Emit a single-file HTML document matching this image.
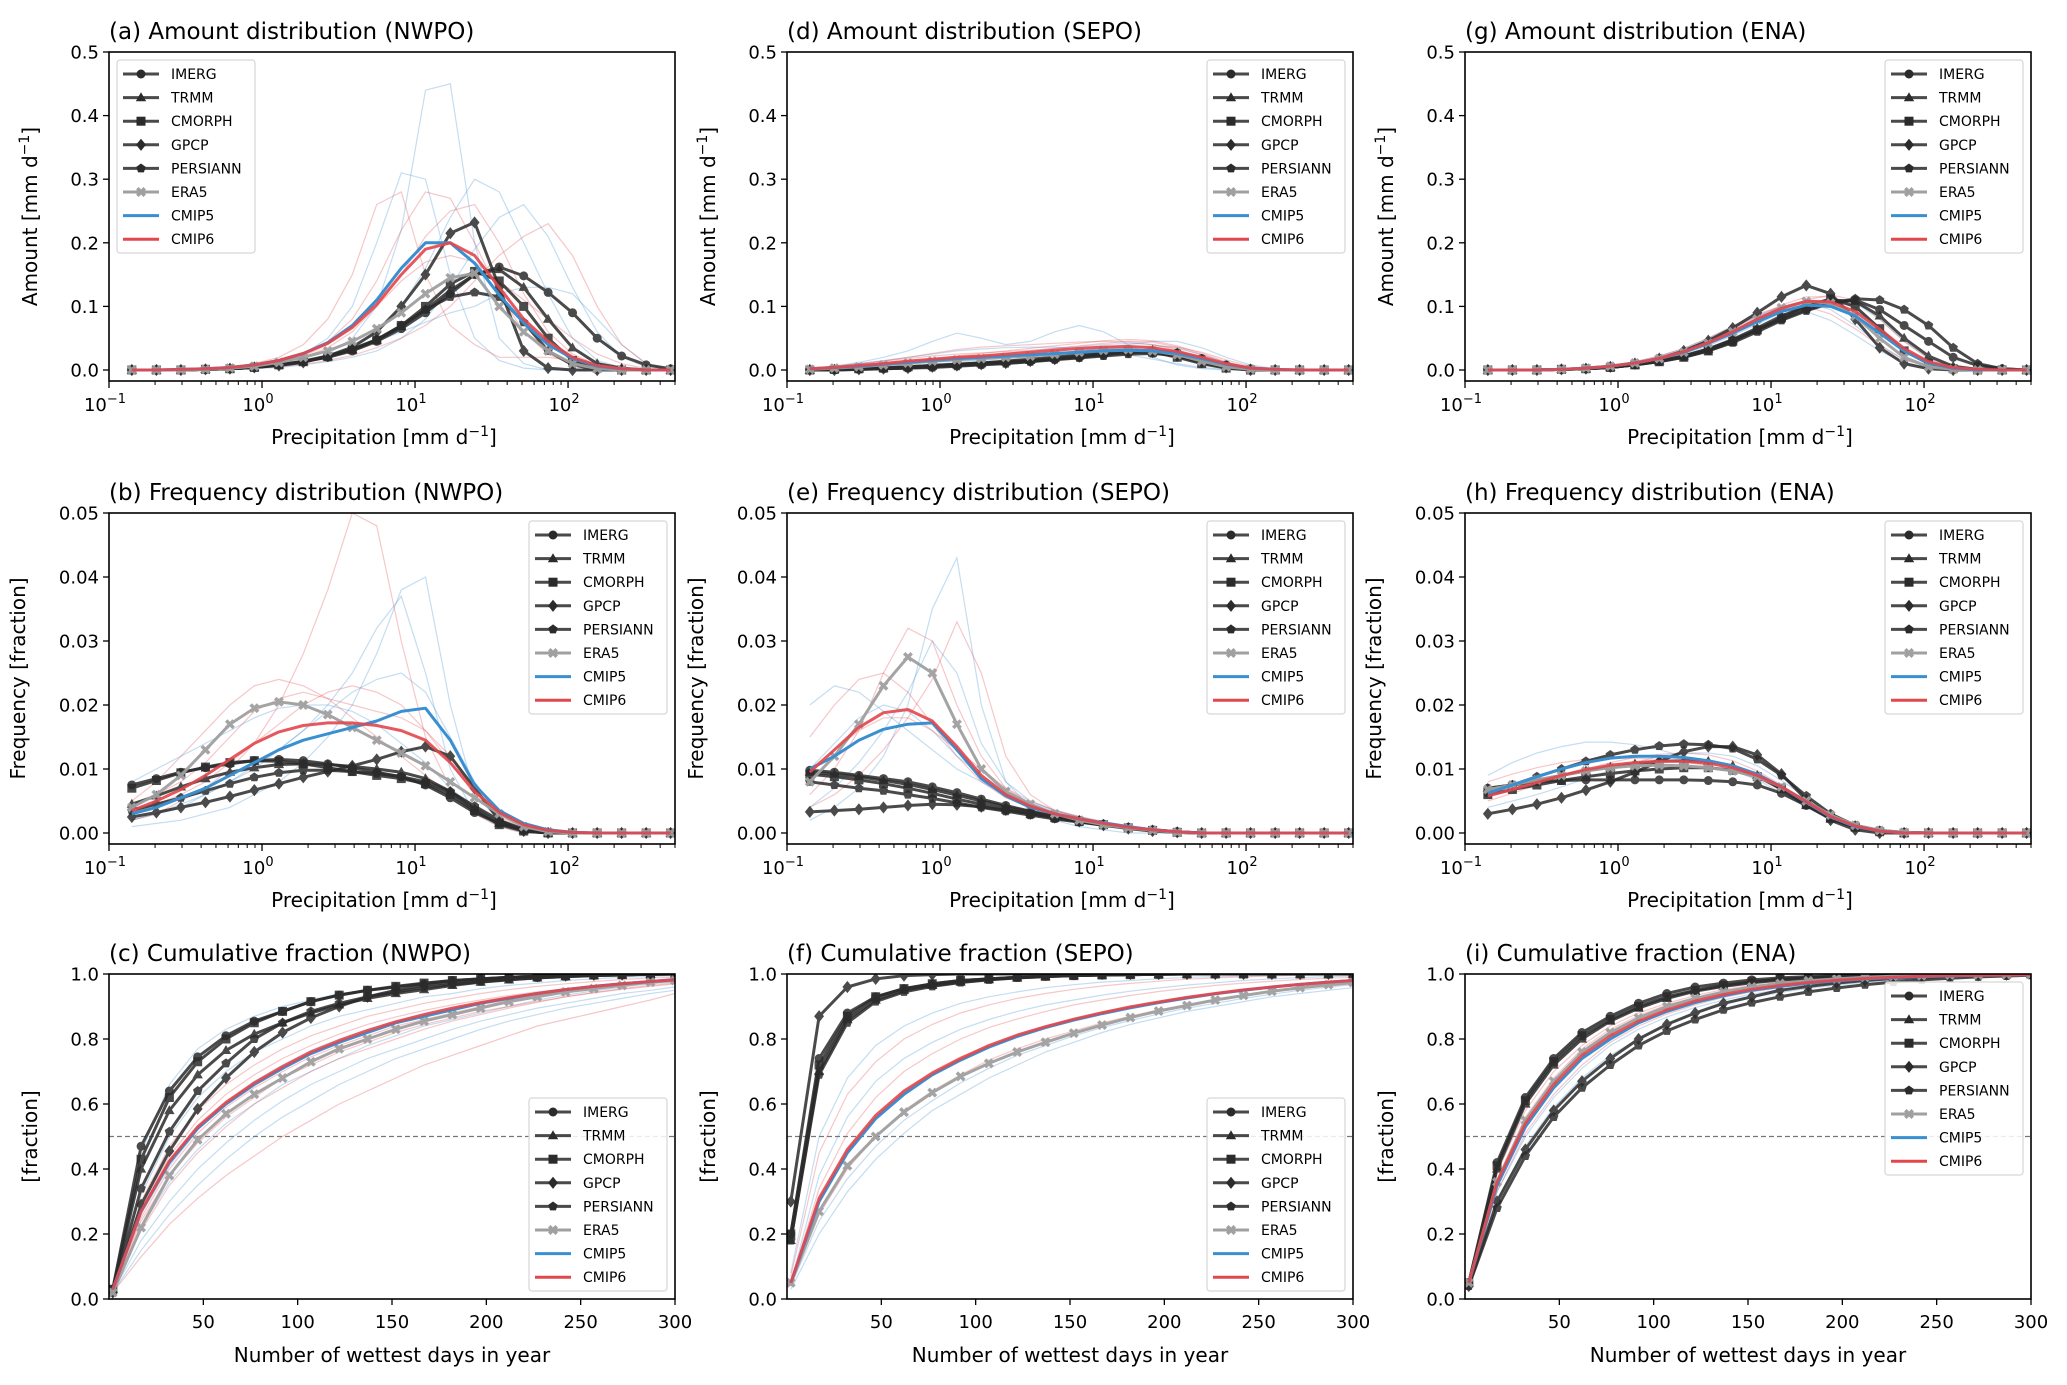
<!DOCTYPE html>
<html><head><meta charset="utf-8"><title>Precipitation distributions</title>
<style>
html,body{margin:0;padding:0;background:#fff;}
svg{display:block;font-family:"DejaVu Sans","Liberation Sans",sans-serif;}
</style></head>
<body>
<svg id="fig" width="2067" height="1385" viewBox="0 0 2067 1385" xmlns="http://www.w3.org/2000/svg"></svg>
<script>
// ---------- shared x values ----------
const binsX = [0.141,0.204,0.295,0.427,0.617,0.891,1.29,1.86,2.69,3.89,5.62,8.13,11.7,17.0,24.5,35.5,51.3,74.1,107,155,224,324,468];
const daysX = [2,17,32,47,62,77,92,107,122,137,152,167,182,197,212,227,242,257,272,287,300];
const seriesNames = ["IMERG","TRMM","CMORPH","GPCP","PERSIANN","ERA5","CMIP5","CMIP6"];
const xTickLog = [0.1,1,10,100];
const xTickLogLabels = ["−1","0","1","2"];
const xTickDays = [50,100,150,200,250,300];
const yTicksAmount = [0,0.1,0.2,0.3,0.4,0.5];
const yTickLabelsAmount = ["0.0","0.1","0.2","0.3","0.4","0.5"];
const yTicksFreq = [0,0.01,0.02,0.03,0.04,0.05];
const yTickLabelsFreq = ["0.00","0.01","0.02","0.03","0.04","0.05"];
const yTicksCum = [0,0.2,0.4,0.6,0.8,1.0];
const yTickLabelsCum = ["0.0","0.2","0.4","0.6","0.8","1.0"];

// ---------- (a) amount NWPO ----------
const a_obs = [
[0,0,0,0.001,0.002,0.004,0.008,0.013,0.02,0.03,0.045,0.065,0.09,0.12,0.15,0.162,0.148,0.122,0.09,0.05,0.022,0.008,0.002],
[0,0,0,0.001,0.002,0.004,0.008,0.013,0.021,0.032,0.047,0.068,0.095,0.125,0.15,0.158,0.13,0.08,0.035,0.01,0.003,0,0],
[0,0,0,0.001,0.002,0.004,0.008,0.013,0.021,0.032,0.047,0.07,0.1,0.135,0.155,0.14,0.1,0.05,0.015,0.003,0,0,0],
[0,0,0,0.001,0.002,0.004,0.007,0.012,0.022,0.036,0.06,0.1,0.15,0.215,0.232,0.13,0.03,0.003,0,0,0,0,0],
[0,0,0,0.001,0.002,0.004,0.008,0.014,0.022,0.033,0.048,0.07,0.095,0.115,0.122,0.115,0.075,0.03,0.008,0.001,0,0,0]];
const a_era5 = [0,0,0,0.001,0.003,0.006,0.012,0.02,0.03,0.045,0.065,0.09,0.12,0.145,0.152,0.1,0.06,0.03,0.01,0.002,0,0,0];
const a_cmip5 = [0,0,0.001,0.002,0.004,0.008,0.015,0.026,0.043,0.07,0.11,0.16,0.2,0.2,0.168,0.118,0.074,0.04,0.018,0.006,0.002,0,0];
const a_cmip6 = [0,0,0.001,0.002,0.004,0.008,0.015,0.026,0.042,0.067,0.103,0.15,0.19,0.2,0.18,0.13,0.08,0.045,0.02,0.007,0.002,0,0];
const a_models5 = [
[0,0,0,0,0.001,0.003,0.006,0.012,0.025,0.05,0.1,0.22,0.44,0.45,0.2,0.05,0.01,0,0,0,0,0,0],
[0,0,0,0.001,0.003,0.006,0.012,0.025,0.05,0.1,0.2,0.31,0.3,0.15,0.05,0.015,0.003,0,0,0,0,0,0],
[0,0,0,0,0.001,0.003,0.006,0.012,0.02,0.035,0.06,0.1,0.16,0.24,0.3,0.28,0.2,0.12,0.05,0.015,0.004,0,0],
[0,0,0,0,0.001,0.002,0.004,0.008,0.013,0.02,0.03,0.05,0.08,0.13,0.19,0.24,0.26,0.21,0.13,0.06,0.02,0.005,0],
[0,0,0,0.001,0.002,0.004,0.007,0.012,0.02,0.03,0.045,0.06,0.075,0.09,0.1,0.12,0.13,0.13,0.12,0.08,0.04,0.01,0]];
const a_models6 = [
[0,0,0.001,0.002,0.004,0.01,0.02,0.04,0.08,0.15,0.26,0.28,0.15,0.07,0.04,0.02,0.02,0.02,0.015,0.005,0,0,0],
[0,0,0,0.001,0.003,0.006,0.012,0.025,0.045,0.08,0.14,0.22,0.28,0.27,0.2,0.12,0.06,0.025,0.008,0.002,0,0,0],
[0,0,0,0,0.001,0.003,0.005,0.009,0.015,0.023,0.035,0.05,0.07,0.1,0.14,0.18,0.21,0.23,0.18,0.1,0.04,0.01,0],
[0,0,0,0.001,0.002,0.005,0.01,0.02,0.035,0.06,0.1,0.15,0.21,0.25,0.26,0.2,0.12,0.06,0.025,0.008,0.002,0,0],
[0,0,0,0.001,0.003,0.006,0.012,0.022,0.04,0.065,0.1,0.14,0.17,0.18,0.17,0.14,0.11,0.08,0.05,0.025,0.01,0.002,0]];

// ---------- (d) amount SEPO ----------
const d_obs = [
[0,0.001,0.002,0.003,0.004,0.006,0.008,0.01,0.012,0.014,0.017,0.02,0.024,0.028,0.03,0.027,0.018,0.008,0.002,0,0,0,0],
[0,0.001,0.002,0.003,0.005,0.007,0.009,0.011,0.013,0.015,0.018,0.022,0.026,0.03,0.031,0.027,0.017,0.007,0.002,0,0,0,0],
[0,0.001,0.002,0.003,0.005,0.007,0.009,0.011,0.014,0.017,0.02,0.024,0.028,0.03,0.028,0.02,0.01,0.003,0,0,0,0,0],
[0,0,0.001,0.002,0.003,0.005,0.007,0.009,0.011,0.014,0.017,0.021,0.025,0.028,0.028,0.022,0.012,0.004,0,0,0,0,0],
[0,0,0.001,0.002,0.003,0.004,0.006,0.008,0.01,0.013,0.016,0.019,0.022,0.025,0.026,0.023,0.015,0.006,0.001,0,0,0,0]];
const d_era5 = [0.001,0.003,0.005,0.008,0.011,0.014,0.016,0.018,0.02,0.022,0.025,0.028,0.031,0.032,0.03,0.024,0.014,0.005,0.001,0,0,0,0];
const d_cmip5 = [0.002,0.004,0.006,0.009,0.012,0.015,0.018,0.02,0.022,0.024,0.026,0.028,0.03,0.031,0.03,0.026,0.018,0.009,0.003,0.001,0,0,0];
const d_cmip6 = [0.002,0.004,0.007,0.01,0.014,0.017,0.02,0.022,0.025,0.028,0.031,0.034,0.036,0.037,0.035,0.029,0.02,0.01,0.003,0.001,0,0,0];
const d_models5 = [
[0.002,0.006,0.012,0.02,0.03,0.045,0.058,0.05,0.04,0.045,0.06,0.07,0.06,0.04,0.02,0.008,0.002,0,0,0,0,0,0],
[0.001,0.002,0.004,0.007,0.01,0.014,0.018,0.022,0.026,0.03,0.034,0.037,0.04,0.042,0.04,0.034,0.024,0.012,0.004,0,0,0,0],
[0.003,0.006,0.01,0.015,0.02,0.025,0.03,0.033,0.035,0.036,0.036,0.034,0.03,0.024,0.017,0.01,0.004,0.001,0,0,0,0,0],
[0,0.001,0.002,0.004,0.006,0.009,0.012,0.015,0.018,0.022,0.026,0.03,0.035,0.04,0.045,0.045,0.035,0.02,0.008,0.002,0,0,0]];
const d_models6 = [
[0.002,0.005,0.009,0.014,0.02,0.026,0.032,0.036,0.038,0.04,0.042,0.044,0.045,0.044,0.04,0.032,0.02,0.009,0.003,0,0,0,0],
[0.001,0.003,0.006,0.01,0.014,0.018,0.022,0.026,0.03,0.034,0.038,0.042,0.046,0.048,0.046,0.038,0.026,0.013,0.004,0.001,0,0,0],
[0.001,0.002,0.004,0.006,0.009,0.012,0.015,0.018,0.021,0.024,0.027,0.03,0.033,0.036,0.038,0.036,0.028,0.016,0.006,0.001,0,0,0],
[0.003,0.006,0.01,0.014,0.018,0.022,0.025,0.027,0.029,0.031,0.034,0.038,0.042,0.045,0.044,0.036,0.024,0.011,0.003,0,0,0,0]];

// ---------- (g) amount ENA ----------
const g_obs = [
[0,0,0,0.001,0.002,0.004,0.008,0.014,0.022,0.033,0.047,0.063,0.08,0.095,0.105,0.11,0.095,0.07,0.045,0.02,0.007,0.002,0],
[0,0,0,0.001,0.002,0.004,0.008,0.014,0.022,0.033,0.048,0.066,0.085,0.1,0.11,0.108,0.085,0.05,0.022,0.006,0.001,0,0],
[0,0,0,0.001,0.002,0.004,0.008,0.013,0.02,0.03,0.045,0.063,0.082,0.1,0.112,0.1,0.065,0.03,0.01,0.002,0,0,0],
[0,0,0,0.001,0.002,0.005,0.01,0.018,0.03,0.046,0.066,0.09,0.115,0.133,0.12,0.08,0.035,0.01,0.002,0,0,0,0],
[0,0,0,0.001,0.002,0.004,0.008,0.013,0.02,0.03,0.043,0.06,0.078,0.093,0.105,0.112,0.11,0.095,0.07,0.035,0.01,0.002,0]];
const g_era5 = [0,0,0,0.001,0.003,0.006,0.011,0.018,0.028,0.042,0.06,0.08,0.098,0.108,0.105,0.085,0.05,0.02,0.005,0.001,0,0,0];
const g_cmip5 = [0,0,0,0.001,0.003,0.006,0.011,0.018,0.028,0.042,0.058,0.076,0.092,0.102,0.1,0.085,0.058,0.03,0.011,0.003,0,0,0];
const g_cmip6 = [0,0,0,0.001,0.003,0.006,0.011,0.018,0.029,0.043,0.06,0.08,0.097,0.108,0.107,0.092,0.064,0.034,0.013,0.004,0.001,0,0];
const g_models5 = [
[0,0,0,0.001,0.003,0.007,0.013,0.022,0.034,0.05,0.068,0.085,0.095,0.092,0.078,0.055,0.03,0.012,0.003,0,0,0,0],
[0,0,0,0.001,0.002,0.005,0.01,0.016,0.025,0.038,0.054,0.072,0.09,0.105,0.112,0.105,0.08,0.045,0.018,0.005,0.001,0,0],
[0,0,0,0.001,0.003,0.006,0.012,0.02,0.032,0.048,0.066,0.085,0.1,0.105,0.095,0.07,0.04,0.016,0.005,0.001,0,0,0]];
const g_models6 = [
[0,0,0,0.001,0.003,0.006,0.012,0.02,0.031,0.046,0.064,0.084,0.102,0.115,0.115,0.098,0.068,0.035,0.013,0.003,0,0,0],
[0,0,0,0.001,0.002,0.005,0.01,0.017,0.027,0.04,0.056,0.075,0.094,0.11,0.118,0.11,0.08,0.045,0.018,0.005,0.001,0,0],
[0,0,0,0.001,0.003,0.007,0.013,0.022,0.034,0.05,0.069,0.088,0.1,0.1,0.088,0.065,0.038,0.016,0.005,0.001,0,0,0]];

// ---------- (b) frequency NWPO ----------
const b_obs = [
[0.0075,0.0085,0.0095,0.0102,0.0108,0.0113,0.0115,0.0113,0.0108,0.0102,0.0095,0.0088,0.0075,0.0055,0.0032,0.0015,0.0005,0.0001,0,0,0,0,0],
[0.0045,0.0058,0.0072,0.0085,0.0095,0.0102,0.0107,0.0108,0.0107,0.0104,0.01,0.0095,0.0085,0.0065,0.0038,0.0015,0.0004,0,0,0,0,0,0],
[0.007,0.0082,0.0094,0.0103,0.011,0.0113,0.0112,0.0108,0.0102,0.0096,0.009,0.0085,0.0077,0.006,0.0035,0.0013,0.0003,0,0,0,0,0,0],
[0.0025,0.0032,0.004,0.0048,0.0057,0.0067,0.0077,0.0087,0.0096,0.0105,0.0115,0.0127,0.0135,0.012,0.007,0.002,0.0003,0,0,0,0,0,0],
[0.0035,0.0045,0.0055,0.0066,0.0077,0.0087,0.0094,0.0098,0.0098,0.0096,0.0093,0.0088,0.008,0.0065,0.0042,0.002,0.0006,0.0001,0,0,0,0,0]];
const b_era5 = [0.004,0.006,0.009,0.013,0.017,0.0195,0.0205,0.02,0.0185,0.0165,0.0145,0.0125,0.0105,0.008,0.0055,0.003,0.001,0.0002,0,0,0,0,0];
const b_cmip5 = [0.003,0.004,0.0055,0.007,0.009,0.011,0.013,0.0145,0.0155,0.0165,0.0175,0.019,0.0195,0.0145,0.0075,0.0035,0.0015,0.0005,0.0001,0,0,0,0];
const b_cmip6 = [0.0035,0.005,0.0068,0.009,0.0115,0.014,0.0158,0.0168,0.0172,0.0172,0.0168,0.016,0.0145,0.011,0.0065,0.0032,0.0013,0.0004,0.0001,0,0,0,0];
const b_models5 = [
[0.001,0.0015,0.002,0.003,0.004,0.006,0.008,0.011,0.015,0.02,0.028,0.038,0.04,0.02,0.006,0.002,0.0005,0,0,0,0,0,0],
[0.002,0.003,0.004,0.006,0.008,0.01,0.013,0.016,0.02,0.025,0.032,0.037,0.025,0.01,0.003,0.001,0,0,0,0,0,0,0],
[0.008,0.01,0.012,0.014,0.016,0.018,0.0195,0.02,0.02,0.019,0.017,0.014,0.011,0.007,0.004,0.002,0.0006,0,0,0,0,0,0],
[0.002,0.003,0.0045,0.006,0.008,0.0105,0.013,0.016,0.019,0.022,0.024,0.025,0.022,0.015,0.008,0.003,0.001,0,0,0,0,0,0]];
const b_models6 = [
[0.002,0.003,0.005,0.007,0.01,0.014,0.02,0.028,0.038,0.05,0.048,0.03,0.015,0.007,0.003,0.001,0,0,0,0,0,0,0],
[0.005,0.008,0.012,0.016,0.02,0.023,0.024,0.023,0.021,0.018,0.015,0.012,0.009,0.006,0.0035,0.0015,0.0005,0,0,0,0,0,0],
[0.003,0.0045,0.006,0.008,0.011,0.014,0.017,0.02,0.022,0.023,0.022,0.02,0.016,0.011,0.006,0.0025,0.0008,0,0,0,0,0,0],
[0.004,0.006,0.008,0.011,0.015,0.019,0.021,0.022,0.021,0.02,0.019,0.018,0.016,0.012,0.007,0.003,0.001,0,0,0,0,0,0]];

// ---------- (e) frequency SEPO ----------
const e_obs = [
[0.0098,0.0095,0.009,0.0085,0.008,0.0072,0.0063,0.0053,0.0043,0.0034,0.0026,0.002,0.0014,0.0009,0.0005,0.0002,0,0,0,0,0,0,0],
[0.0095,0.0092,0.0088,0.0082,0.0076,0.0068,0.0059,0.005,0.0041,0.0033,0.0026,0.002,0.0014,0.0009,0.0005,0.0002,0,0,0,0,0,0,0],
[0.0092,0.0088,0.0083,0.0077,0.007,0.0062,0.0053,0.0045,0.0037,0.003,0.0024,0.0018,0.0013,0.0008,0.0004,0.0001,0,0,0,0,0,0,0],
[0.0033,0.0035,0.0037,0.004,0.0043,0.0045,0.0044,0.0041,0.0036,0.003,0.0024,0.0018,0.0012,0.0007,0.0003,0.0001,0,0,0,0,0,0,0],
[0.008,0.0075,0.007,0.0066,0.006,0.0054,0.0047,0.004,0.0034,0.0028,0.0022,0.0017,0.0012,0.0008,0.0004,0.0001,0,0,0,0,0,0,0]];
const e_era5 = [0.008,0.012,0.017,0.023,0.0275,0.025,0.017,0.01,0.0065,0.0045,0.003,0.002,0.0013,0.0008,0.0004,0.0001,0,0,0,0,0,0,0];
const e_cmip5 = [0.01,0.012,0.0145,0.0162,0.017,0.0172,0.013,0.0085,0.0058,0.004,0.003,0.0022,0.0016,0.001,0.0005,0.0002,0,0,0,0,0,0,0];
const e_cmip6 = [0.0095,0.013,0.0165,0.0188,0.0193,0.0175,0.0135,0.009,0.006,0.0042,0.003,0.0022,0.0015,0.0009,0.0005,0.0002,0,0,0,0,0,0,0];
const e_models5 = [
[0.002,0.004,0.007,0.012,0.02,0.035,0.043,0.02,0.008,0.004,0.002,0.001,0.0005,0,0,0,0,0,0,0,0,0,0],
[0.02,0.023,0.022,0.019,0.016,0.013,0.01,0.008,0.006,0.0045,0.0033,0.0024,0.0016,0.001,0.0005,0.0002,0,0,0,0,0,0,0],
[0.004,0.007,0.011,0.016,0.022,0.03,0.025,0.014,0.008,0.005,0.0035,0.0025,0.0017,0.001,0.0005,0.0002,0,0,0,0,0,0,0],
[0.01,0.014,0.018,0.02,0.019,0.016,0.012,0.009,0.0065,0.0048,0.0035,0.0025,0.0017,0.0011,0.0006,0.0002,0,0,0,0,0,0,0]];
const e_models6 = [
[0.006,0.01,0.016,0.025,0.032,0.03,0.02,0.012,0.007,0.0045,0.003,0.002,0.0013,0.0008,0.0004,0.0001,0,0,0,0,0,0,0],
[0.015,0.02,0.024,0.025,0.022,0.017,0.012,0.008,0.0055,0.004,0.003,0.0022,0.0015,0.0009,0.0005,0.0002,0,0,0,0,0,0,0],
[0.004,0.006,0.009,0.013,0.018,0.024,0.033,0.025,0.012,0.006,0.0035,0.0024,0.0016,0.001,0.0005,0.0002,0,0,0,0,0,0,0],
[0.01,0.013,0.016,0.018,0.018,0.016,0.013,0.01,0.007,0.005,0.0036,0.0026,0.0018,0.0011,0.0006,0.0002,0,0,0,0,0,0,0]];

// ---------- (h) frequency ENA ----------
const h_obs = [
[0.007,0.0075,0.008,0.0082,0.0083,0.0083,0.0083,0.0083,0.0083,0.0082,0.008,0.0075,0.0062,0.0043,0.0024,0.001,0.0003,0.0001,0,0,0,0,0],
[0.007,0.0075,0.0082,0.009,0.0097,0.0103,0.0108,0.0112,0.0113,0.0112,0.0105,0.009,0.0068,0.0043,0.0022,0.0009,0.0003,0,0,0,0,0,0],
[0.006,0.0068,0.0075,0.0082,0.0088,0.0093,0.0097,0.01,0.0102,0.0102,0.0098,0.0088,0.007,0.0045,0.0023,0.0009,0.0002,0,0,0,0,0,0],
[0.003,0.0037,0.0045,0.0055,0.0067,0.008,0.0095,0.0112,0.0127,0.0135,0.0135,0.0122,0.0092,0.0052,0.002,0.0005,0,0,0,0,0,0,0],
[0.0063,0.0075,0.0088,0.01,0.0112,0.0122,0.013,0.0136,0.0139,0.0138,0.0132,0.0115,0.009,0.0058,0.003,0.0012,0.0004,0.0001,0,0,0,0,0]];
const h_era5 = [0.0068,0.0075,0.0083,0.009,0.0097,0.0102,0.0105,0.0106,0.0105,0.0102,0.0097,0.0088,0.0072,0.005,0.0028,0.0012,0.0004,0.0001,0,0,0,0,0];
const h_cmip5 = [0.0062,0.0075,0.0088,0.01,0.011,0.0117,0.012,0.012,0.0118,0.0113,0.0105,0.0092,0.0072,0.0048,0.0025,0.001,0.0003,0,0,0,0,0,0];
const h_cmip6 = [0.0058,0.0068,0.0079,0.009,0.0099,0.0106,0.011,0.0112,0.0112,0.0109,0.0102,0.009,0.0072,0.0049,0.0026,0.0011,0.0003,0,0,0,0,0,0];
const h_models5 = [
[0.009,0.011,0.0125,0.0135,0.0142,0.0142,0.0138,0.013,0.012,0.011,0.0098,0.0083,0.0063,0.0041,0.0021,0.0008,0.0002,0,0,0,0,0,0],
[0.004,0.005,0.006,0.0072,0.0085,0.0098,0.011,0.012,0.0125,0.0125,0.012,0.0105,0.0082,0.0055,0.0028,0.001,0.0003,0,0,0,0,0,0]];
const h_models6 = [
[0.005,0.0062,0.0075,0.0088,0.01,0.011,0.0118,0.0123,0.0125,0.0122,0.0113,0.0097,0.0075,0.005,0.0026,0.001,0.0003,0,0,0,0,0,0],
[0.008,0.0092,0.0102,0.011,0.0115,0.0117,0.0117,0.0115,0.0111,0.0105,0.0097,0.0085,0.0067,0.0045,0.0024,0.001,0.0003,0,0,0,0,0,0]];

// ---------- (c) cumulative NWPO ----------
const c_obs = [
[0.03,0.47,0.64,0.745,0.81,0.855,0.885,0.915,0.935,0.95,0.96,0.97,0.98,0.985,0.99,0.993,0.995,0.997,0.998,0.999,1],
[0.03,0.4,0.58,0.69,0.765,0.815,0.85,0.88,0.905,0.925,0.94,0.952,0.965,0.975,0.982,0.988,0.992,0.995,0.997,0.999,1],
[0.03,0.43,0.62,0.73,0.8,0.85,0.885,0.915,0.935,0.95,0.962,0.972,0.98,0.985,0.99,0.993,0.995,0.997,0.998,0.999,1],
[0.02,0.29,0.455,0.585,0.68,0.76,0.82,0.865,0.9,0.93,0.95,0.965,0.975,0.983,0.99,0.993,0.995,0.997,0.998,0.999,1],
[0.02,0.34,0.515,0.64,0.725,0.8,0.85,0.885,0.91,0.93,0.945,0.958,0.968,0.976,0.983,0.988,0.992,0.995,0.997,0.999,1]];
const c_era5 = [0.02,0.22,0.38,0.49,0.57,0.63,0.68,0.73,0.77,0.8,0.83,0.855,0.875,0.895,0.915,0.93,0.945,0.955,0.965,0.975,0.98];
const c_cmip5 = [0.03,0.27,0.42,0.525,0.6,0.66,0.71,0.755,0.79,0.82,0.85,0.87,0.89,0.91,0.925,0.94,0.952,0.962,0.97,0.977,0.983];
const c_cmip6 = [0.03,0.27,0.425,0.53,0.605,0.665,0.715,0.76,0.795,0.826,0.853,0.875,0.895,0.912,0.927,0.94,0.952,0.962,0.97,0.977,0.982];
const c_models5 = [
[0.05,0.45,0.66,0.77,0.83,0.87,0.9,0.92,0.94,0.95,0.96,0.97,0.975,0.98,0.985,0.99,0.992,0.994,0.996,0.998,1],
[0.02,0.15,0.26,0.35,0.43,0.5,0.56,0.61,0.66,0.7,0.74,0.77,0.8,0.83,0.855,0.875,0.895,0.91,0.925,0.94,0.95],
[0.03,0.22,0.36,0.46,0.54,0.6,0.66,0.7,0.74,0.78,0.81,0.84,0.86,0.88,0.9,0.92,0.935,0.948,0.96,0.97,0.975],
[0.04,0.32,0.5,0.62,0.7,0.76,0.8,0.84,0.87,0.89,0.91,0.93,0.94,0.955,0.965,0.972,0.98,0.985,0.99,0.993,0.995],
[0.03,0.26,0.41,0.52,0.6,0.67,0.72,0.765,0.8,0.83,0.855,0.878,0.897,0.913,0.928,0.94,0.952,0.962,0.97,0.977,0.982],
[0.02,0.18,0.3,0.4,0.48,0.55,0.61,0.66,0.7,0.74,0.77,0.8,0.83,0.855,0.875,0.895,0.91,0.925,0.94,0.95,0.96]];
const c_models6 = [
[0.02,0.13,0.23,0.31,0.38,0.44,0.5,0.55,0.6,0.64,0.68,0.72,0.75,0.78,0.81,0.84,0.86,0.88,0.9,0.92,0.94],
[0.03,0.25,0.4,0.51,0.59,0.65,0.7,0.745,0.78,0.81,0.84,0.86,0.88,0.9,0.92,0.935,0.948,0.958,0.967,0.975,0.98],
[0.03,0.3,0.47,0.58,0.66,0.72,0.77,0.81,0.84,0.87,0.89,0.91,0.925,0.94,0.952,0.962,0.97,0.977,0.983,0.988,0.99],
[0.03,0.21,0.35,0.45,0.53,0.6,0.65,0.7,0.74,0.77,0.8,0.83,0.855,0.875,0.895,0.913,0.93,0.943,0.955,0.965,0.972],
[0.03,0.28,0.44,0.55,0.63,0.69,0.74,0.78,0.815,0.845,0.868,0.888,0.905,0.92,0.934,0.945,0.955,0.964,0.972,0.978,0.983],
[0.03,0.24,0.38,0.48,0.56,0.62,0.68,0.72,0.76,0.79,0.82,0.845,0.865,0.885,0.9,0.915,0.93,0.942,0.953,0.962,0.97]];

// ---------- (f) cumulative SEPO ----------
const f_obs = [
[0.2,0.74,0.88,0.93,0.955,0.97,0.98,0.985,0.99,0.993,0.995,0.997,0.998,0.999,1,1,1,1,1,1,1],
[0.18,0.7,0.86,0.92,0.95,0.965,0.975,0.983,0.988,0.992,0.995,0.997,0.998,0.999,1,1,1,1,1,1,1],
[0.2,0.72,0.87,0.93,0.955,0.97,0.98,0.985,0.99,0.993,0.995,0.997,0.998,0.999,1,1,1,1,1,1,1],
[0.3,0.87,0.96,0.985,0.995,0.998,1,1,1,1,1,1,1,1,1,1,1,1,1,1,1],
[0.18,0.69,0.85,0.915,0.945,0.962,0.974,0.982,0.988,0.992,0.995,0.997,0.998,0.999,1,1,1,1,1,1,1]];
const f_era5 = [0.05,0.27,0.41,0.5,0.575,0.635,0.685,0.725,0.76,0.79,0.818,0.843,0.866,0.886,0.903,0.92,0.934,0.947,0.958,0.967,0.974];
const f_cmip5 = [0.05,0.3,0.45,0.555,0.63,0.69,0.735,0.775,0.808,0.835,0.858,0.878,0.896,0.912,0.926,0.939,0.95,0.96,0.968,0.975,0.98];
const f_cmip6 = [0.05,0.31,0.46,0.565,0.64,0.695,0.74,0.78,0.812,0.838,0.861,0.881,0.899,0.914,0.928,0.94,0.951,0.96,0.968,0.975,0.98];
const f_models5 = [
[0.08,0.5,0.68,0.78,0.84,0.88,0.91,0.93,0.945,0.958,0.967,0.975,0.98,0.985,0.99,0.992,0.994,0.996,0.997,0.998,0.999],
[0.03,0.2,0.33,0.43,0.51,0.58,0.63,0.68,0.72,0.76,0.79,0.82,0.845,0.865,0.885,0.9,0.915,0.93,0.94,0.95,0.958],
[0.05,0.38,0.56,0.67,0.74,0.79,0.83,0.86,0.885,0.905,0.92,0.935,0.947,0.957,0.966,0.973,0.98,0.985,0.989,0.992,0.994],
[0.04,0.24,0.37,0.47,0.55,0.61,0.665,0.71,0.75,0.78,0.81,0.835,0.857,0.877,0.895,0.91,0.925,0.938,0.95,0.96,0.967]];
const f_models6 = [
[0.04,0.26,0.4,0.5,0.58,0.64,0.69,0.735,0.77,0.8,0.825,0.85,0.87,0.89,0.905,0.92,0.933,0.945,0.955,0.963,0.97],
[0.07,0.45,0.63,0.73,0.8,0.845,0.88,0.905,0.925,0.94,0.953,0.963,0.971,0.978,0.984,0.988,0.991,0.994,0.996,0.997,0.998],
[0.04,0.3,0.46,0.56,0.64,0.7,0.745,0.78,0.81,0.84,0.862,0.882,0.9,0.915,0.928,0.94,0.95,0.96,0.968,0.975,0.98],
[0.05,0.34,0.51,0.62,0.7,0.755,0.8,0.835,0.862,0.885,0.905,0.92,0.934,0.946,0.956,0.965,0.972,0.978,0.983,0.987,0.99]];

// ---------- (i) cumulative ENA ----------
const i_obs = [
[0.05,0.42,0.62,0.74,0.82,0.87,0.91,0.94,0.96,0.972,0.982,0.988,0.992,0.995,0.997,0.998,0.999,1,1,1,1],
[0.05,0.4,0.6,0.72,0.8,0.855,0.895,0.925,0.947,0.962,0.973,0.981,0.987,0.991,0.994,0.996,0.998,0.999,1,1,1],
[0.05,0.41,0.61,0.73,0.81,0.86,0.9,0.93,0.95,0.965,0.976,0.984,0.989,0.993,0.996,0.998,0.999,1,1,1,1],
[0.04,0.3,0.46,0.58,0.67,0.74,0.8,0.845,0.88,0.91,0.93,0.95,0.962,0.972,0.98,0.986,0.99,0.993,0.996,0.998,1],
[0.04,0.28,0.44,0.56,0.65,0.72,0.78,0.825,0.86,0.89,0.912,0.93,0.945,0.957,0.967,0.975,0.982,0.987,0.991,0.994,0.996]];
const i_era5 = [0.05,0.36,0.55,0.67,0.76,0.82,0.865,0.9,0.925,0.945,0.96,0.971,0.979,0.985,0.99,0.993,0.995,0.997,0.998,0.999,1];
const i_cmip5 = [0.05,0.35,0.53,0.65,0.74,0.8,0.85,0.885,0.912,0.933,0.95,0.962,0.972,0.979,0.985,0.989,0.992,0.994,0.996,0.997,0.998];
const i_cmip6 = [0.05,0.36,0.54,0.66,0.75,0.81,0.855,0.89,0.917,0.937,0.953,0.965,0.974,0.981,0.986,0.99,0.993,0.995,0.996,0.997,0.998];
const i_models5 = [
[0.05,0.3,0.47,0.59,0.68,0.75,0.8,0.845,0.88,0.905,0.927,0.943,0.956,0.966,0.974,0.98,0.985,0.989,0.992,0.994,0.996],
[0.06,0.42,0.62,0.74,0.82,0.87,0.905,0.932,0.952,0.966,0.976,0.983,0.988,0.992,0.995,0.997,0.998,0.999,1,1,1],
[0.05,0.33,0.5,0.62,0.71,0.78,0.83,0.868,0.897,0.92,0.938,0.952,0.963,0.972,0.979,0.984,0.988,0.991,0.994,0.996,0.997]];
const i_models6 = [
[0.05,0.33,0.51,0.63,0.72,0.79,0.84,0.877,0.905,0.928,0.945,0.958,0.968,0.976,0.982,0.987,0.99,0.993,0.995,0.997,0.998],
[0.06,0.39,0.58,0.7,0.78,0.84,0.88,0.91,0.934,0.952,0.965,0.974,0.981,0.986,0.99,0.993,0.995,0.997,0.998,0.999,1],
[0.05,0.37,0.56,0.68,0.77,0.83,0.872,0.905,0.928,0.947,0.961,0.971,0.979,0.985,0.989,0.992,0.994,0.996,0.997,0.998,0.999]];

// ---------- layout ----------
const NS = "http://www.w3.org/2000/svg";
const svg = document.getElementById("fig");
const colL = [109, 787, 1465], W = 566;
const rows = [
  {top:52, bot:381, ymin:-0.0173, ymax:0.5, kind:"amount"},
  {top:513, bot:844, ymin:-0.00172, ymax:0.05, kind:"freq"},
  {top:974, bot:1299, ymin:0, ymax:1, kind:"cum"}];
const regions = ["NWPO","SEPO","ENA"];
const letters = [["a","d","g"],["b","e","h"],["c","f","i"]];
const titles = ["Amount distribution","Frequency distribution","Cumulative fraction"];
const panelData = {
 a:[a_obs,a_era5,a_cmip5,a_cmip6,a_models5,a_models6], d:[d_obs,d_era5,d_cmip5,d_cmip6,d_models5,d_models6], g:[g_obs,g_era5,g_cmip5,g_cmip6,g_models5,g_models6],
 b:[b_obs,b_era5,b_cmip5,b_cmip6,b_models5,b_models6], e:[e_obs,e_era5,e_cmip5,e_cmip6,e_models5,e_models6], h:[h_obs,h_era5,h_cmip5,h_cmip6,h_models5,h_models6],
 c:[c_obs,c_era5,c_cmip5,c_cmip6,c_models5,c_models6], f:[f_obs,f_era5,f_cmip5,f_cmip6,f_models5,f_models6], i:[i_obs,i_era5,i_cmip5,i_cmip6,i_models5,i_models6]};
const legendPos = {a:"ul",d:"ur",g:"ur",b:"ur",e:"ur",h:"ur",c:"lr",f:"lr",i:"ur"};
const markerTypes = ["circle","triangle","square","diamond","pentagon","x"];
const OBS = "#2b2b2b", ERA = "#a0a0a0", C5 = "#3a8fd0", C6 = "#e2474d";

function el(tag, attrs, parent){
  const e = document.createElementNS(NS, tag);
  for (const k in attrs) e.setAttribute(k, attrs[k]);
  (parent||svg).appendChild(e); return e;
}
function marker(g, type, x, y, col, s){
  let m;
  if (type==="circle") m = el("circle",{cx:x,cy:y,r:s},g);
  else if (type==="square") m = el("rect",{x:x-s,y:y-s,width:2*s,height:2*s},g);
  else if (type==="triangle") m = el("polygon",{points:`${x},${y-s*1.2} ${x-s*1.15},${y+s*0.8} ${x+s*1.15},${y+s*0.8}`},g);
  else if (type==="diamond") m = el("polygon",{points:`${x},${y-s*1.35} ${x+s*1.1},${y} ${x},${y+s*1.35} ${x-s*1.1},${y}`},g);
  else if (type==="pentagon"){ let p=[]; for(let k=0;k<5;k++){const a=-Math.PI/2+k*2*Math.PI/5; p.push((x+s*1.1*Math.cos(a)).toFixed(1)+","+(y+s*1.1*Math.sin(a)).toFixed(1));} m = el("polygon",{points:p.join(" ")},g); }
  else { const t=s*0.55, r=s*1.1; m = el("polygon",{points:`${x-r},${y-r+t} ${x-r+t},${y-r} ${x},${y-t} ${x+r-t},${y-r} ${x+r},${y-r+t} ${x+t},${y} ${x+r},${y+r-t} ${x+r-t},${y+r} ${x},${y+t} ${x-r+t},${y+r} ${x-r},${y+r-t} ${x-t},${y}`},g); }
  m.setAttribute("fill", col);
  
  
  return m;
}
function text(str, x, y, size, anchor, parent, name){
  const t = el("text",{x:x,y:y,"font-size":size,"text-anchor":anchor||"start",fill:"#000"},parent);
  t.textContent = str;
  
  
  return t;
}

for (let r=0;r<3;r++){
  const R = rows[r], H = R.bot - R.top;
  for (let c=0;c<3;c++){
    const L = colL[c], letter = letters[r][c];
    const g = el("g",{});
    
    
    const isLog = r<2;
    const xs = v => isLog ? L + (Math.log10(v)+1)/(Math.log10(500)+1)*W : L + v/300*W;
    const ys = v => R.bot - (v - R.ymin)/(R.ymax - R.ymin)*H;
    const xVals = isLog ? binsX : daysX;
    const [obs, era, c5, c6, m5, m6] = panelData[letter];
    const cp = el("clipPath",{id:"clip-"+letter},g);
    el("rect",{x:L,y:R.top,width:W,height:H},cp);
    const plot = el("g",{"clip-path":"url(#clip-"+letter+")"},g);
    
    
    const pathOf = arr => arr.map((v,k)=>(k?"L":"M")+xs(xVals[k]).toFixed(1)+","+ys(v).toFixed(1)).join("");
    m5.forEach(arr=>{ const p = el("path",{d:pathOf(arr),fill:"none",stroke:C5,"stroke-width":1.2,"stroke-opacity":0.3},plot);
        });
    m6.forEach(arr=>{ const p = el("path",{d:pathOf(arr),fill:"none",stroke:C6,"stroke-width":1.2,"stroke-opacity":0.3},plot);
        });
    if (r===2){ const dl = el("line",{x1:L,x2:L+W,y1:ys(0.5),y2:ys(0.5),stroke:"#777","stroke-width":1.3,"stroke-dasharray":"5,3"},plot);
        }
    const drawSeries = (arr, col, mt, name, op) => {
      const sg = el("g",{opacity:op},plot);
      
      
      el("path",{d:pathOf(arr),fill:"none",stroke:col,"stroke-width":3,"stroke-linejoin":"round"},sg);
      if (mt) arr.forEach((v,k)=> marker(sg, mt, xs(xVals[k]), ys(v), col, 4.5));
    };
    obs.forEach((arr,k)=> drawSeries(arr, OBS, markerTypes[k], seriesNames[k].toLowerCase()+"-series", 0.85));
    drawSeries(era, ERA, "x", "era5-series", 0.95);
    drawSeries(c5, C5, null, "cmip5-mean-series", 1);
    drawSeries(c6, C6, null, "cmip6-mean-series", 0.9);
    const fr = el("rect",{x:L,y:R.top,width:W,height:H,fill:"none",stroke:"#000","stroke-width":1.6},g);
     
    const yt = R.kind==="amount"?yTicksAmount:R.kind==="freq"?yTicksFreq:yTicksCum;
    const ytl = R.kind==="amount"?yTickLabelsAmount:R.kind==="freq"?yTickLabelsFreq:yTickLabelsCum;
    yt.forEach((v,k)=>{ const y=ys(v); el("line",{x1:L-6,x2:L,y1:y,y2:y,stroke:"#000","stroke-width":1.3},g);
      text(ytl[k], L-10, y+6.5, 18, "end", g, "y-tick-label"); });
    if (isLog){
      for (let dec=-1; dec<=2; dec++){
        for (let m=1;m<=9;m++){
          const v = m*Math.pow(10,dec); if (v>500) break;
          const x = xs(v), len = m===1?7:4;
          el("line",{x1:x,x2:x,y1:R.bot,y2:R.bot+len,stroke:"#000","stroke-width":m===1?1.3:1},g);
        }
      }
      xTickLog.forEach((v,k)=>{ const t = text("10", xs(v)-4, R.bot+30, 18, "middle", g, "x-tick-label");
        const s = el("tspan",{dy:-8,"font-size":13},t); s.textContent = xTickLogLabels[k]; });
      const xl = text("Precipitation [mm d", L+W/2-8, R.bot+63, 20, "middle", g, "x-axis-title");
      const s1 = el("tspan",{dy:-8,"font-size":14},xl); s1.textContent="−1";
      const s2 = el("tspan",{dy:8},xl); s2.textContent="]";
    } else {
      xTickDays.forEach(v=>{ const x=xs(v); el("line",{x1:x,x2:x,y1:R.bot,y2:R.bot+6,stroke:"#000","stroke-width":1.3},g);
        text(String(v), x, R.bot+29, 18, "middle", g, "x-tick-label"); });
      text("Number of wettest days in year", L+W/2, R.bot+63, 20, "middle", g, "x-axis-title");
    }
    const yOff = r===1 ? 84 : 72;
    const yc = (R.top+R.bot)/2, yx = L - yOff;
    const yl = el("text",{x:yx,y:yc,"font-size":20,"text-anchor":"middle",transform:`rotate(-90 ${yx} ${yc})`,fill:"#000"},g);
     
    if (r===0){ yl.textContent="Amount [mm d"; const s=el("tspan",{dy:-8,"font-size":14},yl); s.textContent="−1"; const s2=el("tspan",{dy:8},yl); s2.textContent="]"; }
    else if (r===1) yl.textContent="Frequency [fraction]";
    else yl.textContent="[fraction]";
    text(`(${letter}) ${titles[r]} (${regions[c]})`, L, R.top-13, 23, "start", g, "panel-title");
    const lw=138, lh=193, pos=legendPos[letter];
    const lx = pos==="ul" ? L+8 : L+W-8-lw;
    const ly = pos==="lr" ? R.bot-8-lh : R.top+8;
    const lg = el("g",{},g);
     
    el("rect",{x:lx,y:ly,width:lw,height:lh,rx:3,fill:"#fff","fill-opacity":0.85,stroke:"#d6d6d6","stroke-width":1.2},lg);
    seriesNames.forEach((nm,k)=>{
      const ey = ly+14+k*23.6;
      const ent = el("g",{},lg);
      
      
      const col = k<5?OBS:k===5?ERA:k===6?C5:C6;
      el("line",{x1:lx+6,x2:lx+42,y1:ey,y2:ey,stroke:col,"stroke-width":3,opacity:k<5?0.85:1},ent);
      if (k<6) marker(ent, markerTypes[k], lx+24, ey, col, 4.5);
      text(nm, lx+54, ey+5, 14, "start", ent, "legend-label");
    });
  }
}
</script>
</body></html>
